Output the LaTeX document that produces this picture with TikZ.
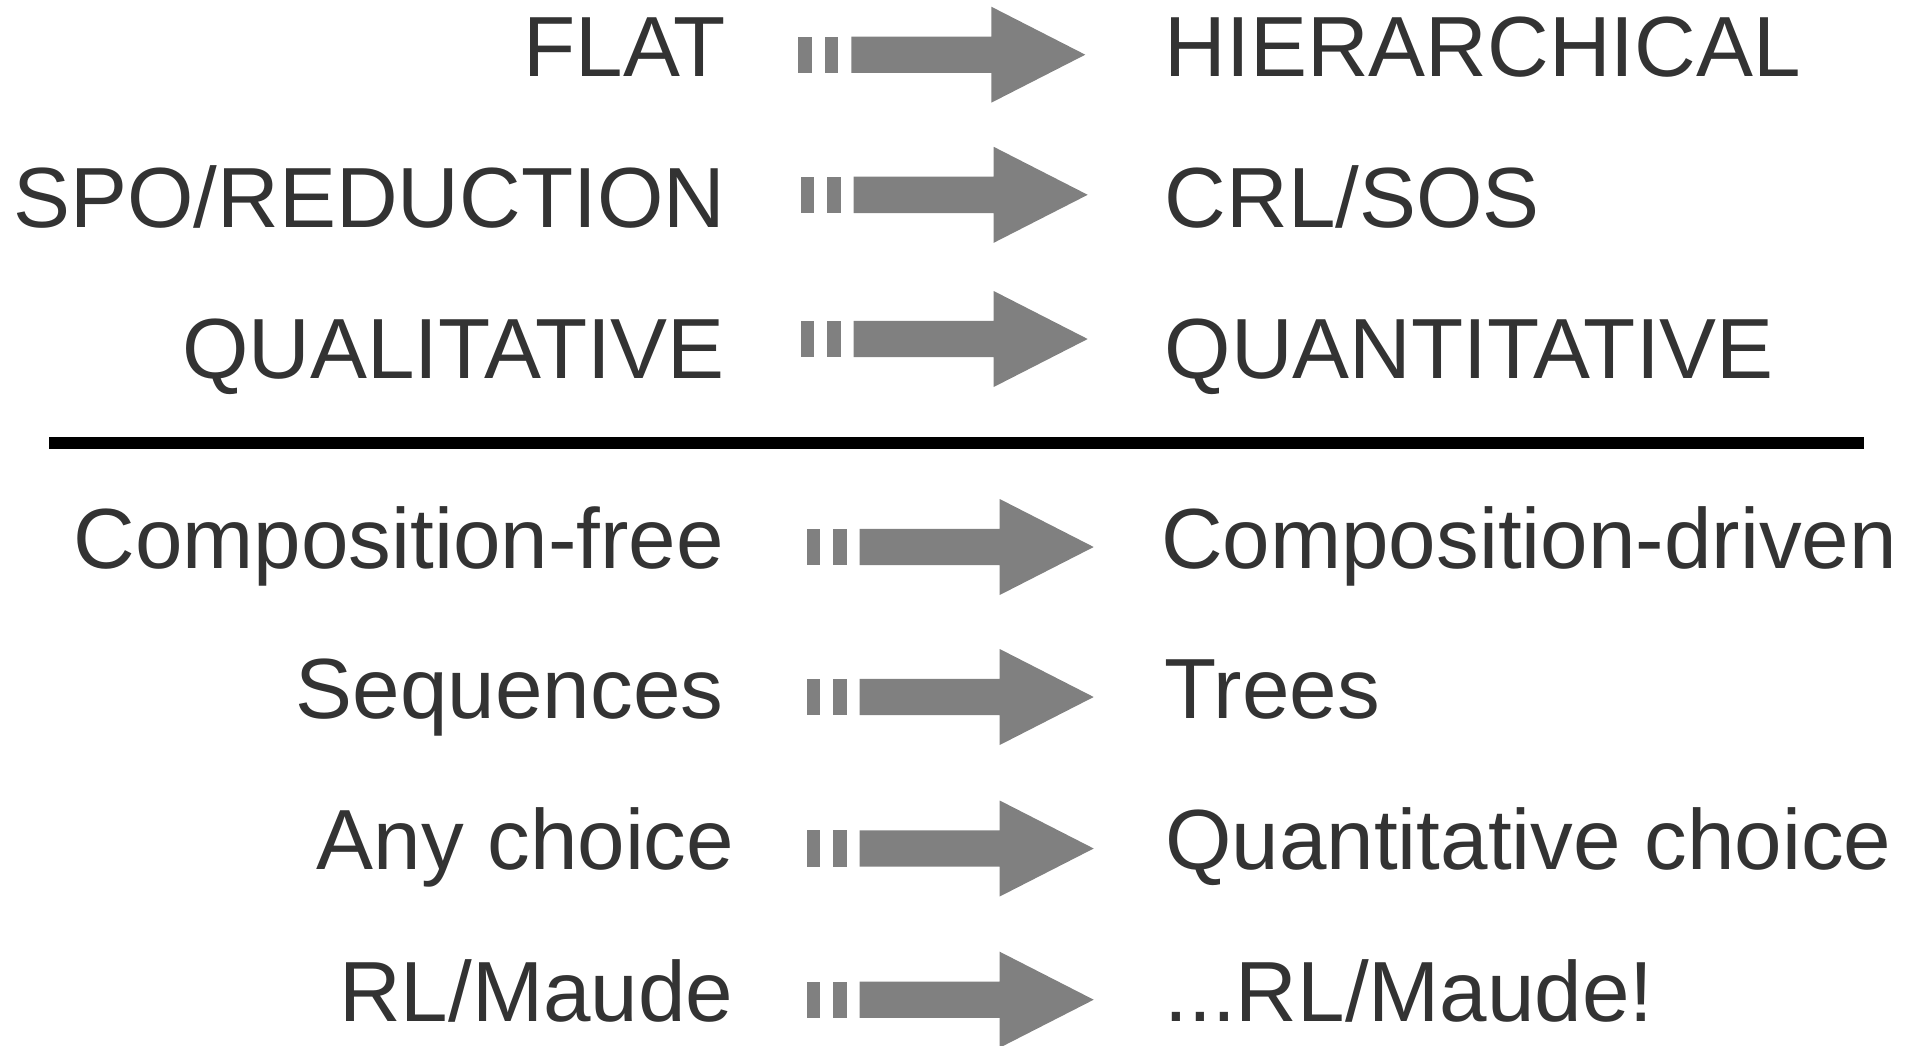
\documentclass[tikz,border=0pt]{standalone}
\usepackage{fontspec}
\setmainfont{Liberation Sans}
\definecolor{txtgray}{HTML}{333333}
\definecolor{arrowgray}{HTML}{808080}
\tikzset{
  lefttxt/.style={anchor=base east, inner sep=0pt, text=txtgray, font=\fontsize{85.4pt}{100pt}\selectfont},
  righttxt/.style={anchor=base west, inner sep=0pt, text=txtgray, font=\fontsize{85.4pt}{100pt}\selectfont},
  fatarrow/.pic={
    \fill[arrowgray] (0,-18.2) rectangle (13.3,18.2);
    \fill[arrowgray] (26.7,-18.2) rectangle (40,18.2);
    \fill[arrowgray] (53,-18.2) -- (193,-18.2) -- (193,-48) -- (287,0) -- (193,48) -- (193,18.2) -- (53,18.2) -- cycle;
  }
}
\begin{document}
\begin{tikzpicture}[x=1pt,y=-1pt]
\useasboundingbox (0,0) rectangle (1917,1045);
% top group
\node[lefttxt] (l1) at (726,76.7) {FLAT};
\node[lefttxt] (l2) at (725.5,227.7) {SPO/REDUCTION};
\node[lefttxt] (l3) at (725,378.3) {QUALITATIVE};
\node[righttxt] (r1) at (1164.5,76.2) {HIERARCHICAL};
\node[righttxt] (r2) at (1164.5,227.7) {CRL/SOS};
\node[righttxt] (r3) at (1164.5,378.3) {QUANTITATIVE};
\pic at (798.3,54.7) {fatarrow};
\pic at (800.7,194.8) {fatarrow};
\pic at (800.7,339) {fatarrow};
% separator
\coordinate (sepL) at (49,443);
\coordinate (sepR) at (1864,443);
\draw[line width=12pt, black] (sepL) -- (sepR);
% bottom group
\node[lefttxt] (l5) at (724,568.3) {Composition-free};
\node[lefttxt] (l6) at (723.5,718.8) {Sequences};
\node[lefttxt] (l7) at (734.5,869.5) {Any choice};
\node[lefttxt] (l8) at (733.5,1021.3) {RL/Maude};
\node[righttxt] (r5) at (1161,568.3) {Composition-driven};
\node[righttxt] (r6) at (1164.5,718.8) {Trees};
\node[righttxt] (r7) at (1165,869.5) {Quantitative choice};
\node[righttxt] (r8) at (1164.5,1021) {...RL/Maude!};
\pic at (806.7,547) {fatarrow};
\pic at (806.7,697) {fatarrow};
\pic at (806.7,848.5) {fatarrow};
\pic at (806.7,999.7) {fatarrow};
\end{tikzpicture}
\end{document}
